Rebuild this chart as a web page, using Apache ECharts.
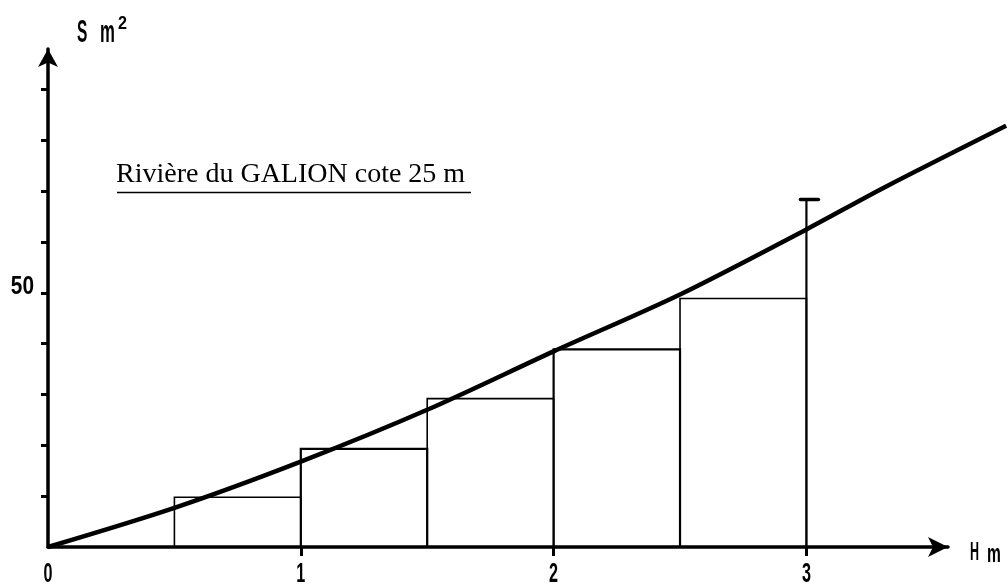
<!DOCTYPE html>
<html>
<head>
<meta charset="utf-8">
<script src="https://cdn.jsdelivr.net/npm/echarts@6/dist/echarts.min.js"></script>
<style>html,body{margin:0;padding:0;background:#fff}#c{width:1007px;height:588px}</style>
</head>
<body>
<div id="c"></div>
<script>
// Data
const curveH = [0, 0.5, 1, 1.5, 2, 2.5, 3, 3.31, 3.79];
const curveS = [0, 7.7, 16.8, 27.0, 38.5, 49.7, 62.5, 70.8, 82.9];
const stepLeft = [0.5, 1, 1.5, 2, 2.5];
const stepRight = [1, 1.5, 2, 2.5, 3];
const stepTop = [9.8, 19.3, 29.2, 38.9, 48.9];
const gaugeH = 3, gaugeTop = 68.4;
const xTickValues = [1, 2, 3];
const xLabelValues = [0, 1, 2, 3];
const yTickValues = [10, 20, 30, 40, 50, 60, 70, 80, 90];
const yLabelValues = [50];
const titleText = 'Rivière du GALION cote 25 m';

const sans = "'Liberation Sans',Arial,sans-serif";
const chart = echarts.init(document.getElementById('c'));
const stepData = stepLeft.map((l, i) => [l, stepRight[i], stepTop[i]]);

const X_MAX = 3.56, PLOT_W = 900, FULL_W = 959;

chart.setOption({
  backgroundColor: '#fff',
  animation: false,
  grid: [
    { left: 48, right: 59, top: 49, bottom: 41 },
    { left: 48, right: 0, top: 49, bottom: 41 }
  ],
  xAxis: [{
    type: 'value', min: 0, max: X_MAX, gridIndex: 0,
    splitLine: { show: false },
    axisLine: { lineStyle: { color: '#000', width: 3.5 }, symbol: ['none', 'arrow'], symbolSize: [15, 20] },
    axisTick: { show: true, length: 9, lineStyle: { color: '#000', width: 3 }, customValues: xTickValues },
    axisLabel: { show: false }
  }, {
    type: 'value', min: 0, max: X_MAX * FULL_W / PLOT_W, gridIndex: 1, show: false
  }],
  yAxis: [{
    type: 'value', min: 0, max: 98, gridIndex: 0,
    splitLine: { show: false },
    axisLine: { lineStyle: { color: '#000', width: 3.5 }, symbol: ['none', 'arrow'], symbolSize: [15, 18] },
    axisTick: { show: true, length: 7, lineStyle: { color: '#000', width: 3 }, customValues: yTickValues },
    axisLabel: { show: false }
  }, {
    type: 'value', min: 0, max: 98, gridIndex: 1, show: false
  }],
  graphic: [
    { type: 'text', x: 77, y: 18, scaleX: 0.5, style: { text: 'S', fill: '#000', font: "bold 31px " + sans } },
    { type: 'text', x: 100, y: 18, scaleX: 0.54, style: { text: 'm', fill: '#000', font: "bold 31px " + sans } },
    { type: 'text', x: 118, y: 14, scaleX: 0.85, style: { text: '2', fill: '#000', font: "bold 19px " + sans } },
    { type: 'text', x: 970, y: 541, scaleX: 0.5, style: { text: 'H', fill: '#000', font: "bold 25px " + sans } },
    { type: 'text', x: 987, y: 542, scaleX: 0.6, style: { text: 'm', fill: '#000', font: "bold 26px " + sans } },
    { type: 'text', left: 116, top: 161, style: { text: titleText, fill: '#000', font: "28px 'Liberation Serif','Times New Roman',serif" } },
    { type: 'line', shape: { x1: 117, y1: 192.5, x2: 471, y2: 192.5 }, style: { stroke: '#000', lineWidth: 1.6 } }
  ],
  series: [
    {
      type: 'custom', coordinateSystem: 'cartesian2d', xAxisIndex: 0, yAxisIndex: 0,
      data: xLabelValues, clip: false, silent: true,
      renderItem: function (params, api) {
        const v = api.value(0);
        const p = api.coord([v, 0]);
        return { type: 'text', x: p[0], y: p[1] + 14, scaleX: 0.6,
          style: { text: String(v), fill: '#000', font: "bold 27px " + sans, align: 'center', verticalAlign: 'top' } };
      }
    },
    {
      type: 'custom', coordinateSystem: 'cartesian2d', xAxisIndex: 0, yAxisIndex: 0,
      data: yLabelValues.map(v => [0, v]), clip: false, silent: true,
      renderItem: function (params, api) {
        const v = api.value(1);
        const p = api.coord([0, v]);
        return { type: 'text', x: p[0] - 14, y: p[1] + 7, scaleX: 0.8,
          style: { text: String(v), fill: '#000', font: "bold 26px " + sans, align: 'right', verticalAlign: 'bottom' } };
      }
    },
    {
      type: 'custom', coordinateSystem: 'cartesian2d', xAxisIndex: 1, yAxisIndex: 1,
      data: stepData, clip: false,
      renderItem: function (params, api) {
        const l = api.value(0), r = api.value(1), t = api.value(2);
        const p0 = api.coord([l, 0]), p1 = api.coord([l, t]), p2 = api.coord([r, t]), p3 = api.coord([r, 0]);
        const w = Number.isInteger(l) ? 2.2 : 1.6;
        return { type: 'polyline', shape: { points: [p0, p1, p2, p3] }, style: { stroke: '#000', fill: null, lineWidth: w } };
      },
      z: 2
    },
    {
      type: 'custom', coordinateSystem: 'cartesian2d', xAxisIndex: 1, yAxisIndex: 1,
      data: [[gaugeH, gaugeTop]], clip: false,
      renderItem: function (params, api) {
        const h = api.value(0), t = api.value(1);
        const b = api.coord([h, 0]), top = api.coord([h, t]);
        return { type: 'group', children: [
          { type: 'line', shape: { x1: b[0], y1: b[1], x2: top[0], y2: top[1] }, style: { stroke: '#000', lineWidth: 2.2 } },
          { type: 'line', shape: { x1: top[0] - 6, y1: top[1], x2: top[0] + 12, y2: top[1] }, style: { stroke: '#000', lineWidth: 3.5, lineCap: 'round' } }
        ] };
      },
      z: 2
    },
    {
      type: 'line', xAxisIndex: 1, yAxisIndex: 1,
      data: curveH.map((h, i) => [h, curveS[i]]),
      smooth: 0.3, symbol: 'none', clip: false,
      lineStyle: { color: '#000', width: 4.5 },
      z: 3
    }
  ]
});
</script>
</body>
</html>
